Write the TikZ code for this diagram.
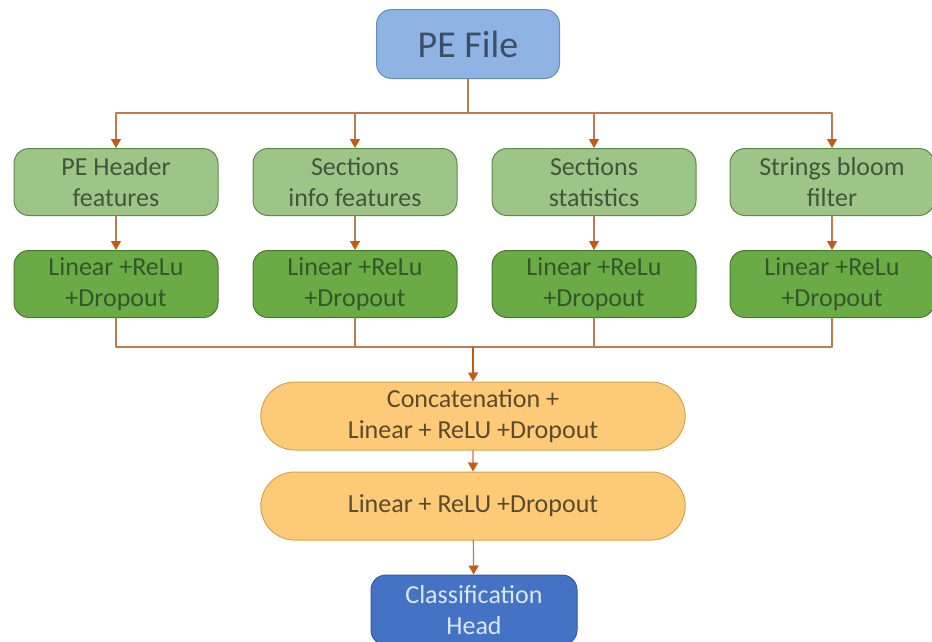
\documentclass[tikz,border=0pt]{standalone}
\usepackage{fontspec}
\setmainfont{Carlito}
\usetikzlibrary{arrows.meta,positioning,shapes.misc}
\definecolor{peBlue}{HTML}{8FB4E3}
\definecolor{peBlueLine}{HTML}{6A8DBE}
\definecolor{peBlueInk}{HTML}{3C4F66}
\definecolor{featGreen}{HTML}{9CC587}
\definecolor{featGreenLine}{HTML}{5E8A4A}
\definecolor{featInk}{HTML}{41563A}
\definecolor{linGreen}{HTML}{6AAB45}
\definecolor{linGreenLine}{HTML}{4A7731}
\definecolor{linInk}{HTML}{35562A}
\definecolor{mlpOrange}{HTML}{FDCB78}
\definecolor{mlpOrangeLine}{HTML}{D6A24C}
\definecolor{mlpInk}{HTML}{5A4A2E}
\definecolor{headBlue}{HTML}{4472C4}
\definecolor{headBlueLine}{HTML}{35599C}
\definecolor{headInk}{HTML}{DCE7F5}
\definecolor{wireBrown}{HTML}{BF7A50}
\definecolor{tipOrange}{HTML}{C55A11}
\begin{document}
\begin{tikzpicture}[x=1pt,y=-1pt,>={Triangle[length=9pt,width=10pt,color=tipOrange]},line cap=round,line join=round]
\useasboundingbox[fill=white] (0,0) rectangle (932,641);
\tikzset{featbox/.style={draw=featGreenLine,fill=featGreen,text=featInk,line width=1pt,rounded corners=15pt,minimum width=204pt,minimum height=67pt,align=center,font=\fontsize{26}{30.5}\selectfont},
  linbox/.style={featbox,draw=linGreenLine,fill=linGreen,text=linInk},
  mlpbox/.style={rounded rectangle,draw=mlpOrangeLine,fill=mlpOrange,text=mlpInk,line width=1pt,minimum width=431pt,minimum height=68pt,align=center,font=\fontsize{26}{30.5}\selectfont},
  wire/.style={draw=wireBrown,line width=1.2pt}}
% input
\node[draw=peBlueLine,fill=peBlue,text=peBlueInk,line width=1pt,rounded corners=15pt,minimum width=183pt,minimum height=69pt,font=\fontsize{38}{44}\selectfont] (pe) at (468,44) {PE File};
% feature groups
\node[featbox] (hdr) at (116,182) {PE Header\\features};
\node[featbox] (secinfo) at (355,182) {Sections\\info features};
\node[featbox] (secstat) at (594,182) {Sections\\statistics};
\node[featbox] (bloom) at (832,182) {Strings bloom\\filter};
\node[linbox] (lin1) at (116,284) {Linear +ReLu\\+Dropout};
\node[linbox] (lin2) at (355,284) {Linear +ReLu\\+Dropout};
\node[linbox] (lin3) at (594,284) {Linear +ReLu\\+Dropout};
\node[linbox] (lin4) at (832,284) {Linear +ReLu\\+Dropout};
% joint part
\node[mlpbox] (concat) at (473,416) {Concatenation +\\Linear + ReLU +Dropout};
\node[mlpbox] (mlp) at (473,506) {Linear + ReLU +Dropout};
\node[draw=headBlueLine,fill=headBlue,text=headInk,line width=1pt,rounded corners=15pt,minimum width=206pt,minimum height=70pt,align=center,font=\fontsize{26}{30.5}\selectfont] (head) at (474,610) {Classification\\Head};
\coordinate (split) at (468,113);
\coordinate (join) at (473,347);
\draw[wire] (pe) -- (split);
\foreach \n in {hdr,secinfo,secstat,bloom}
  \draw[wire,->] (split) -| (\n);
\foreach \a/\b in {hdr/lin1,secinfo/lin2,secstat/lin3,bloom/lin4}
  \draw[wire,->] (\a) -- (\b);
\foreach \n in {lin1,lin2,lin3,lin4}
  \draw[wire] (\n) |- (join);
\draw[wire,->,draw=tipOrange,line width=1.6pt] (join) -- (concat);
\draw[wire,->] (concat) -- (mlp);
\draw[wire,->] (mlp) -- (head);
\end{tikzpicture}
\end{document}
